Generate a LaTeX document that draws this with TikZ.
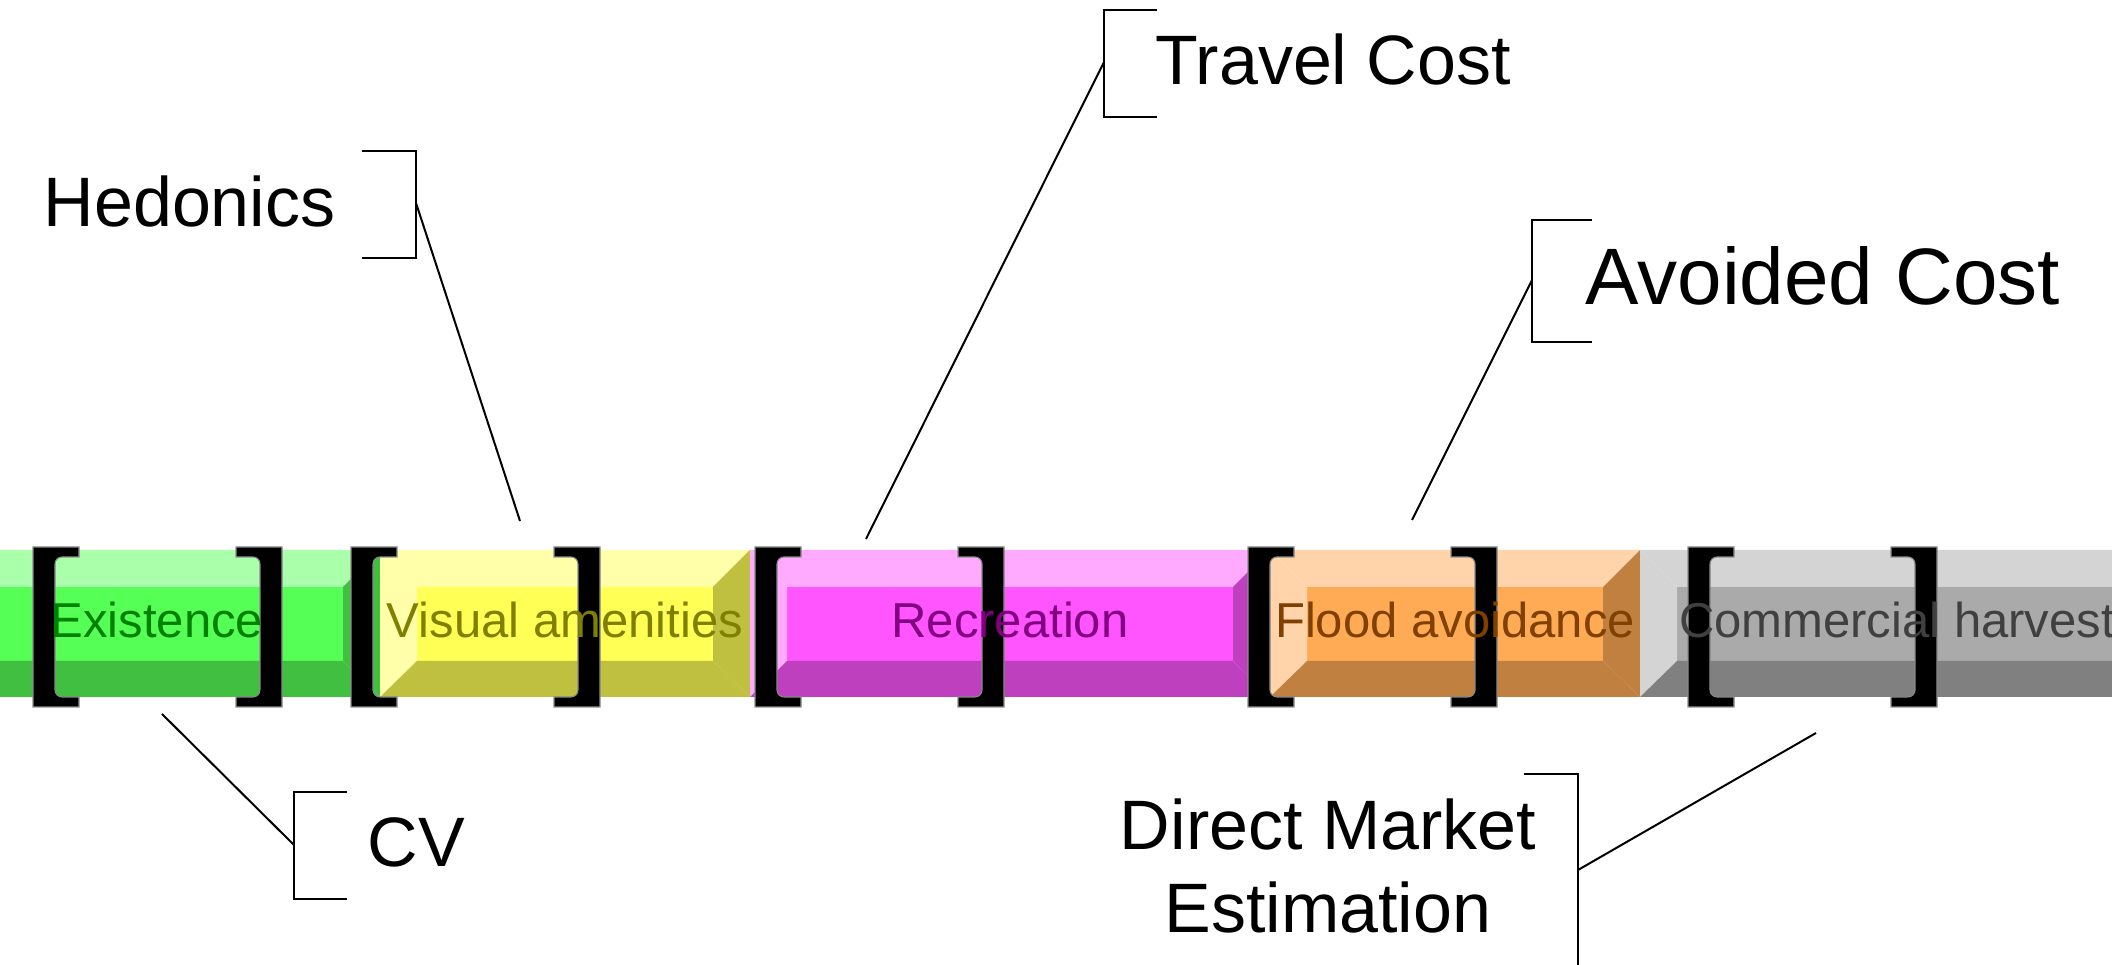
\documentclass[tikz,border=0pt]{standalone}
\usepackage{fontspec}
\setmainfont{Liberation Sans}
\usetikzlibrary{positioning, calc}

\definecolor{greenMid}{HTML}{55FF55}
\definecolor{yellowMid}{HTML}{FFFF55}
\definecolor{pinkMid}{HTML}{FF55FF}
\definecolor{orangeMid}{HTML}{FFAA55}
\definecolor{greyMid}{HTML}{AAAAAA}
\definecolor{greenText}{HTML}{008000}
\definecolor{yellowText}{HTML}{808000}
\definecolor{pinkText}{HTML}{800080}
\definecolor{orangeText}{HTML}{804000}
\definecolor{greyText}{HTML}{404040}

\begin{document}
\begin{tikzpicture}[
    x=0.01cm, y=0.01cm,
    service/.style={
        anchor=base, inner sep=0pt,
        font=\fontsize{13.94}{16}\selectfont
    },
    method/.style={
        inner sep=0pt,
        font=\fontsize{19.9}{23.6}\selectfont
    },
    leader/.style={line width=0.57pt, draw=black},
    brack/.style={fill=black, draw=black!45, line width=0.3pt}
]
    \useasboundingbox (0,0) rectangle (2112,965);

    % The value band ===========================
    \foreach \xa/\xb/\col in {-65/380/greenMid, 380/750/yellowMid, 750/1270/pinkMid,
        1270/1640/orangeMid, 1640/2155/greyMid}{
        \fill[fill=\col] (\xa+37,378) rectangle (\xb-37,304);
        \fill[fill=\col!50!white] (\xa,415) -- (\xb,415) -- (\xb-37,378) -- (\xa+37,378) -- cycle;
        \fill[fill=\col!50!white] (\xa,415) -- (\xa+37,378) -- (\xa+37,304) -- (\xa,268) -- cycle;
        \fill[fill=\col!75!black] (\xa,268) -- (\xa+37,304) -- (\xb-37,304) -- (\xb,268) -- cycle;
        \fill[fill=\col!75!black] (\xb,415) -- (\xb-37,378) -- (\xb-37,304) -- (\xb,268) -- cycle;
    }

    % The brackets ==============================
    \foreach \xl in {33, 351, 755, 1248, 1688}{
        \pgfmathsetmacro{\xr}{\xl+249}
        \filldraw[brack] (\xl,418) -- ++(46,0) -- ++(0,-10) -- (\xl+29,408)
            arc[start angle=90, end angle=180, radius=7] -- (\xl+22,275)
            arc[start angle=180, end angle=270, radius=7] -- (\xl+46,268)
            -- ++(0,-10) -- (\xl,258) -- cycle;
        \filldraw[brack] (\xr,418) -- ++(-46,0) -- ++(0,-10) -- (\xr-29,408)
            arc[start angle=90, end angle=0, radius=7] -- (\xr-22,275)
            arc[start angle=0, end angle=-90, radius=7] -- (\xr-46,268)
            -- ++(0,-10) -- (\xr,258) -- cycle;
    }

    % Service labels on top ======================
    \foreach \xc/\txtcol/\nm/\txt in {157/greenText/Existence/Existence,
        565/yellowText/Visual/Visual amenities,
        1010/pinkText/Recreation/Recreation,
        1455/orangeText/Flood/Flood avoidance,
        1897/greyText/Harvest/Commercial harvest}{
        \node[service, text=\txtcol] (\nm) at (\xc,327) {\txt};
    }

    % Callouts =================================
    % Hedonics
    \node[method, anchor=base west] (Hedonics) at (43,738) {Hedonics};
    \coordinate (HedonicsTip) at (416,762);
    \coordinate (HedonicsEnd) at (520,444);
    \draw[leader] (HedonicsTip) ++(-54,52) -- ++(54,0) -- ++(0,-107) -- ++(-54,0);
    \draw[leader] (HedonicsTip) -- (HedonicsEnd);

    % Travel Cost
    \node[method, anchor=base west] (TravelCost) at (1155,880) {Travel Cost};
    \coordinate (TravelTip) at (1104,903);
    \coordinate (TravelEnd) at (866,426);
    \draw[leader] (TravelTip) ++(53,52) -- ++(-53,0) -- ++(0,-107) -- ++(53,0);
    \draw[leader] (TravelTip) -- (TravelEnd);

    % Avoided Cost
    \node[method, font=\fontsize{22.76}{27}\selectfont, anchor=base west] (AvoidedCost) at (1585,660) {Avoided Cost};
    \coordinate (AvoidedTip) at (1532,685);
    \coordinate (AvoidedEnd) at (1412,445);
    \draw[leader] (AvoidedTip) ++(60,60) -- ++(-60,0) -- ++(0,-122) -- ++(60,0);
    \draw[leader] (AvoidedTip) -- (AvoidedEnd);

    % CV
    \node[method, anchor=base west] (CV) at (367,98) {CV};
    \coordinate (CVTip) at (294,120);
    \coordinate (CVEnd) at (162,251);
    \draw[leader] (CVTip) ++(53,53) -- ++(-53,0) -- ++(0,-107) -- ++(53,0);
    \draw[leader] (CVTip) -- (CVEnd);

    % Direct Market Estimation
    \node[method, align=center, anchor=base] (DirectMarket) at (1328,32) {Direct Market\\Estimation};
    \coordinate (DirectTip) at (1578,95);
    \coordinate (DirectEnd) at (1816,232);
    \draw[leader] (DirectTip) ++(-54,96) -- ++(54,0) -- ++(0,-192) -- ++(-54,0);
    \draw[leader] (DirectTip) -- (DirectEnd);

\end{tikzpicture}
\end{document}
